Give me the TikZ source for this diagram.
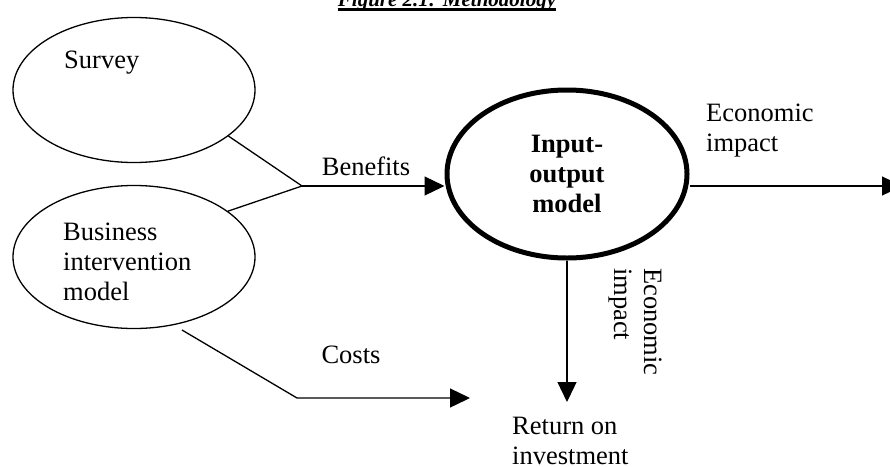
\documentclass[tikz,border=0pt]{standalone}
\usepackage{fontspec}
\setmainfont{Liberation Serif}
\usetikzlibrary{arrows.meta,shapes.geometric}
\begin{document}
\begin{tikzpicture}[x=1pt,y=-1pt,
  txt/.style={inner sep=1pt,font=\fontsize{26.5}{30}\selectfont,align=left},
  oval/.style={draw,ellipse,line width=1.3pt,inner sep=0pt},
  conn/.style={line width=1.3pt},
  arr/.style={line width=1.3pt,-{Triangle[length=20pt,width=19pt]}}]
\useasboundingbox (0,0) rectangle (890,466);
% title
\node[inner sep=0pt,anchor=base,font=\fontsize{21}{25}\selectfont\bfseries\itshape] (title) at (447,6) {Figure 2.1: Methodology};
\draw[line width=3pt] ([yshift=-3pt]title.base west) -- ([yshift=-3pt]title.base east);
% ellipses
\node[oval,minimum width=242pt,minimum height=145pt] (survey) at (134,90) {};
\node[txt,anchor=west] (surveytxt) at (63,63) {Survey};
\node[oval,minimum width=242pt,minimum height=143pt] (bim) at (134,257) {};
\node[txt,anchor=west] (bimtxt) at (62,262) {Business\\intervention\\model};
\node[draw,ellipse,line width=5pt,minimum width=240pt,minimum height=168pt,inner sep=0pt,
      font=\fontsize{26.5}{30}\selectfont\bfseries,align=center] (io) at (567,174) {\raisebox{4pt}{\parbox{4cm}{\centering Input-\\output\\model}}};
% coordinates
\coordinate (junction) at (302,186);
\coordinate (costsstart) at (182,330);
\coordinate (costsbend) at (297,398);
\coordinate (costsend) at (470,398);
\coordinate (downend) at (567,402);
\coordinate (econend) at (902,186);
% connectors
\draw[conn] (survey.-26) -- (junction);
\draw[conn] (bim.26) -- (junction);
\draw[arr] (junction) -- (junction -| io.west);
\draw[arr] (junction -| io.east) -- (econend);
\draw[arr] (io.south) -- (downend);
\draw[arr] (costsstart) -- (costsbend) -- (costsend);
% labels
\node[txt,anchor=center] (benefits) at (366,166) {Benefits};
\node[txt,anchor=center] (costs) at (351,355) {Costs};
\node[txt,anchor=west] (econright) at (705,131) {Economic\\impact};
\node[txt,anchor=west,rotate=-90] (econdown) at (635,267) {Economic\\impact};
\node[txt,anchor=west] (roi) at (511,441) {Return on\\investment};
\end{tikzpicture}
\end{document}
